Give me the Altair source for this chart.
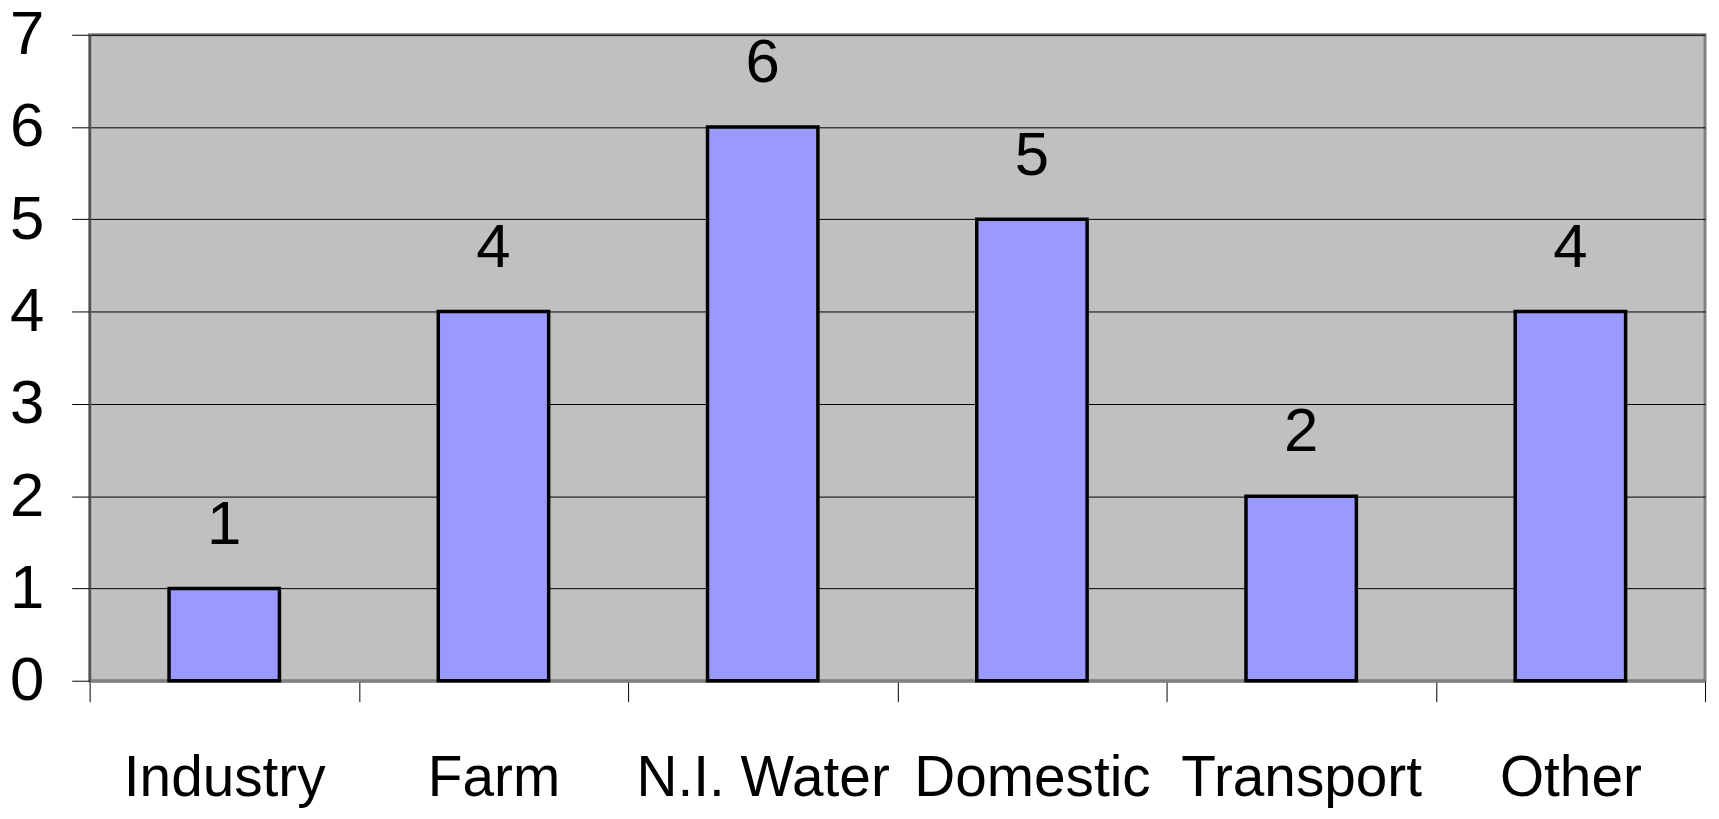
import altair as alt
import pandas as pd

categories = ["Industry", "Farm", "N.I. Water", "Domestic", "Transport", "Other"]
values = [1, 4, 6, 5, 2, 4]

df = pd.DataFrame({"category": categories, "value": values})

FONT = "Liberation Sans Narrow, Arial Narrow, Liberation Sans, Arial"

base = alt.Chart(df).encode(
    x=alt.X("category:N", sort=categories,
            scale=alt.Scale(paddingInner=0, paddingOuter=0),
            axis=alt.Axis(title=None, labelAngle=0, labelFont=FONT, labelFontSize=57,
                          labelColor="black", labelPadding=49, labelLimit=600,
                          tickBand="extent",
                          tickColor="black", tickSize=21, tickWidth=1,
                          domainColor="#808080", domainWidth=3, grid=False)),
)

bars = base.mark_bar(color="#9999FF", stroke="black", strokeWidth=3.5,
                     width=alt.RelativeBandSize(0.41)).encode(
    y=alt.Y("value:Q", scale=alt.Scale(domain=[0, 7], nice=False),
            axis=alt.Axis(title=None, values=[0, 1, 2, 3, 4, 5, 6, 7], format="d",
                          labelFont=FONT, labelFontSize=62, labelColor="black",
                          labelPadding=28, labelLimit=200,
                          tickColor="black", tickSize=18, tickWidth=1,
                          domainColor="#505050", domainWidth=2,
                          grid=True, gridColor="black", gridWidth=1, gridOpacity=1))
)

labels = base.mark_text(font=FONT, fontSize=62, color="black",
                        baseline="alphabetic", dy=-45).encode(
    y=alt.Y("value:Q"),
    text=alt.Text("value:Q", format="d"),
)

chart = alt.layer(bars, labels).properties(
    width=1623, height=649,
    autosize=alt.AutoSizeParams(type="none"),
    padding={"left": 82, "top": 25, "right": 6, "bottom": 128},
).configure_view(
    fill="#C0C0C0", stroke="#808080", strokeWidth=3
)

chart.save("out.html", embed_options={"renderer": "svg", "actions": False})
